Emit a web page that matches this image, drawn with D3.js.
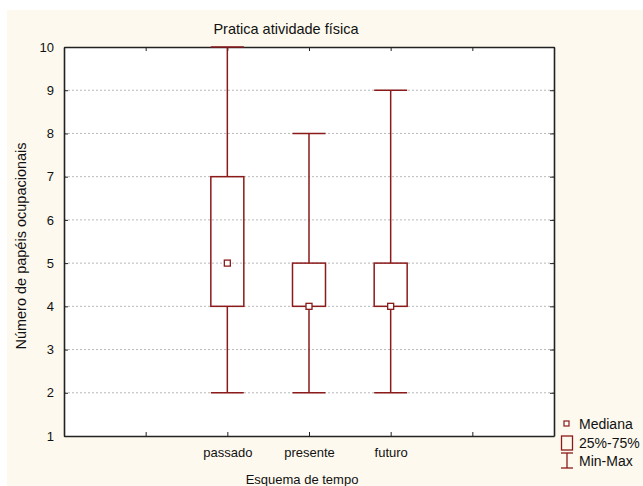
<!DOCTYPE html>
<html>
<head>
<meta charset="utf-8">
<script src="https://cdn.jsdelivr.net/npm/d3@7"></script>
<style>
  body { margin: 0; background: #ffffff; }
  svg { display: block; font-family: "Liberation Sans", Arial, sans-serif; }
</style>
</head>
<body>
<svg id="chart"></svg>
<script>
const categories = ["passado", "presente", "futuro"];
const catPos = [2, 3, 4];
const minVals = [2, 2, 2];
const maxVals = [10, 8, 9];
const q1Vals = [4, 4, 4];
const q3Vals = [7, 5, 5];
const medianVals = [5, 4, 4];
const yTicks = [1, 2, 3, 4, 5, 6, 7, 8, 9, 10];
const xTicks = [0, 1, 2, 3, 4, 5, 6];

const width = 643;
const height = 486;
const red = "#8b1a1a";

const svg = d3.select("#chart").attr("width", width).attr("height", height);

// cream panel
svg.append("rect")
  .attr("x", 7).attr("y", 10)
  .attr("width", width - 7).attr("height", height - 10)
  .attr("fill", "#fdf9ee");

const plot = { left: 64, right: 554, top: 47, bottom: 436 };

const x = d3.scaleLinear().domain([0, 6]).range([plot.left, plot.right]);
const y = d3.scaleLinear().domain([1, 10]).range([plot.bottom, plot.top]);

svg.append("rect")
  .attr("x", plot.left).attr("y", plot.top)
  .attr("width", plot.right - plot.left).attr("height", plot.bottom - plot.top)
  .attr("fill", "#ffffff");

// grid
svg.append("g")
  .selectAll("line")
  .data(yTicks.slice(1, -1))
  .join("line")
  .attr("x1", plot.left).attr("x2", plot.right)
  .attr("y1", (d) => y(d)).attr("y2", (d) => y(d))
  .attr("stroke", "#b8b8b8")
  .attr("stroke-width", 1)
  .attr("stroke-dasharray", "2,2");

// axes (ticks inside)
const labelOf = (d) => {
  const i = catPos.indexOf(d);
  return i >= 0 ? categories[i] : "";
};

const xAxis = svg.append("g")
  .attr("transform", `translate(0,${plot.bottom})`)
  .call(d3.axisBottom(x).tickValues(xTicks).tickSizeInner(-4).tickSizeOuter(0).tickPadding(12).tickFormat(labelOf));
const xTop = svg.append("g")
  .attr("transform", `translate(0,${plot.top})`)
  .call(d3.axisTop(x).tickValues(xTicks).tickSizeInner(-4).tickSizeOuter(0).tickFormat(""));
const yAxis = svg.append("g")
  .attr("transform", `translate(${plot.left},0)`)
  .call(d3.axisLeft(y).tickValues(yTicks).tickSizeInner(-4).tickSizeOuter(0).tickPadding(10).tickFormat(d3.format("d")));
const yRight = svg.append("g")
  .attr("transform", `translate(${plot.right},0)`)
  .call(d3.axisRight(y).tickValues(yTicks).tickSizeInner(-4).tickSizeOuter(0).tickFormat(""));

[xAxis, xTop, yAxis, yRight].forEach((a) => {
  a.select(".domain").attr("stroke", "#222").attr("stroke-width", 1.6);
  a.selectAll(".tick line").attr("stroke", "#222");
  a.selectAll("text").attr("font-size", 13).attr("fill", "#111")
    .attr("font-family", "'Liberation Sans', Arial, sans-serif");
});

// boxes
const boxW = 33;
const data = categories.map((c, i) => ({
  pos: catPos[i], min: minVals[i], max: maxVals[i],
  q1: q1Vals[i], q3: q3Vals[i], med: medianVals[i]
}));

const boxes = svg.append("g").selectAll("g").data(data).join("g");

boxes.append("line")
  .attr("x1", (d) => x(d.pos)).attr("x2", (d) => x(d.pos))
  .attr("y1", (d) => y(d.max)).attr("y2", (d) => y(d.q3))
  .attr("stroke", red).attr("stroke-width", 1.5);
boxes.append("line")
  .attr("x1", (d) => x(d.pos)).attr("x2", (d) => x(d.pos))
  .attr("y1", (d) => y(d.q1)).attr("y2", (d) => y(d.min))
  .attr("stroke", red).attr("stroke-width", 1.5);
boxes.append("line")
  .attr("x1", (d) => x(d.pos) - boxW / 2).attr("x2", (d) => x(d.pos) + boxW / 2)
  .attr("y1", (d) => y(d.max)).attr("y2", (d) => y(d.max))
  .attr("stroke", red).attr("stroke-width", 1.5);
boxes.append("line")
  .attr("x1", (d) => x(d.pos) - boxW / 2).attr("x2", (d) => x(d.pos) + boxW / 2)
  .attr("y1", (d) => y(d.min)).attr("y2", (d) => y(d.min))
  .attr("stroke", red).attr("stroke-width", 1.5);
boxes.append("rect")
  .attr("x", (d) => x(d.pos) - boxW / 2)
  .attr("y", (d) => y(d.q3))
  .attr("width", boxW)
  .attr("height", (d) => y(d.q1) - y(d.q3))
  .attr("fill", "none").attr("stroke", red).attr("stroke-width", 1.5);
boxes.append("rect")
  .attr("x", (d) => x(d.pos) - 3)
  .attr("y", (d) => y(d.med) - 3)
  .attr("width", 6).attr("height", 6)
  .attr("fill", "#fff").attr("stroke", red).attr("stroke-width", 1.3);

// titles
svg.append("text")
  .attr("x", 286).attr("y", 34)
  .attr("text-anchor", "middle")
  .attr("font-size", 14.5)
  .attr("fill", "#111")
  .text("Pratica atividade física");

svg.append("text")
  .attr("x", 302).attr("y", 484)
  .attr("text-anchor", "middle")
  .attr("font-size", 13)
  .attr("fill", "#111")
  .text("Esquema de tempo");

svg.append("text")
  .attr("transform", `translate(26,246) rotate(-90)`)
  .attr("text-anchor", "middle")
  .attr("font-size", 14.5)
  .attr("fill", "#111")
  .text("Número de papéis ocupacionais");

// legend
const lg = svg.append("g");
lg.append("rect")
  .attr("x", 564).attr("y", 421).attr("width", 5).attr("height", 5)
  .attr("fill", "#fff").attr("stroke", red).attr("stroke-width", 1.2);
lg.append("rect")
  .attr("x", 561.5).attr("y", 436).attr("width", 11).attr("height", 14)
  .attr("fill", "none").attr("stroke", red).attr("stroke-width", 1.3);
lg.append("line").attr("x1", 567).attr("x2", 567).attr("y1", 453).attr("y2", 468)
  .attr("stroke", red).attr("stroke-width", 1.3);
lg.append("line").attr("x1", 561).attr("x2", 573).attr("y1", 453).attr("y2", 453)
  .attr("stroke", red).attr("stroke-width", 1.3);
lg.append("line").attr("x1", 561).attr("x2", 573).attr("y1", 468).attr("y2", 468)
  .attr("stroke", red).attr("stroke-width", 1.3);

const legendItems = ["Mediana", "25%-75%", "Min-Max"];
const legendY = [424, 443, 461];
lg.selectAll("text.leg")
  .data(legendItems)
  .join("text")
  .attr("class", "leg")
  .attr("x", 579)
  .attr("y", (d, i) => legendY[i])
  .attr("dy", "0.35em")
  .attr("font-size", 14)
  .attr("fill", "#111")
  .text((d) => d);
</script>
</body>
</html>
